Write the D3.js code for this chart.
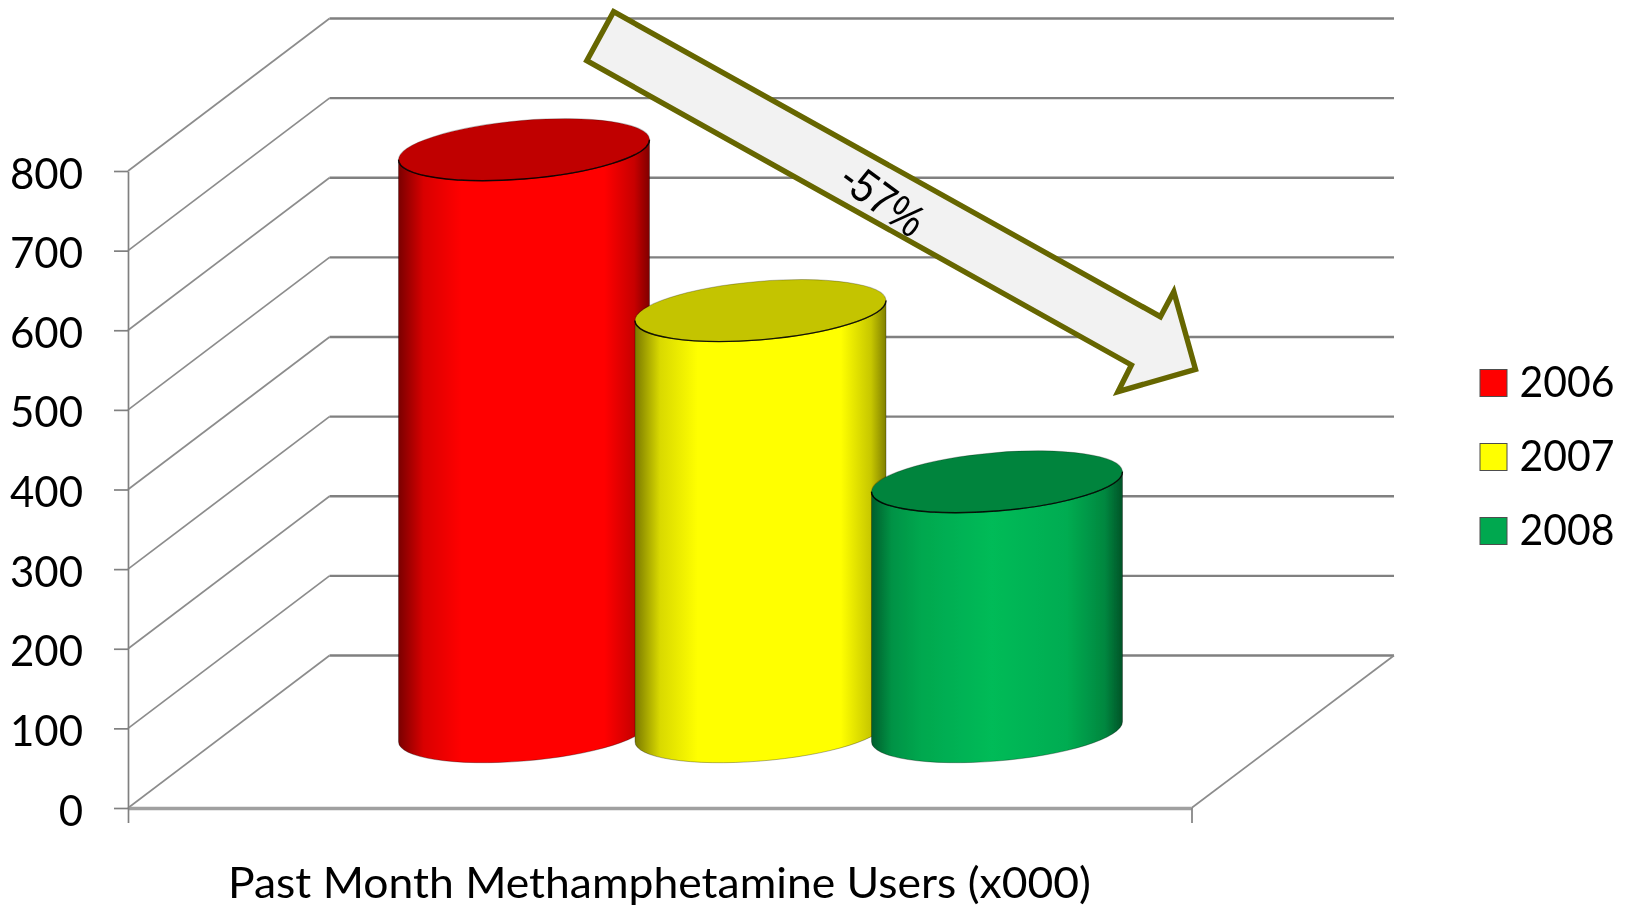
<!DOCTYPE html>
<html>
<head>
<meta charset="utf-8">
<script src="https://cdn.jsdelivr.net/npm/d3@7"></script>
<style>
    html, body { margin: 0; padding: 0; background: #fff; }
    svg { display: block; }
    text { font-family: Lato, sans-serif; fill: #000; }
</style>
</head>
<body>
<svg id="chart" width="1630" height="908"></svg>
<script>
const years = ["2006", "2007", "2008"];
const users = [731, 529, 314];
const bodyColors = ["#ff0000", "#ffff00", "#05bb58"];
const capColors = ["#c00000", "#c4c400", "#04843c"];
const legendColors = ["#ff0000", "#ffff00", "#00a84f"];
const yTicks = [0, 100, 200, 300, 400, 500, 600, 700, 800];
const xTitle = "Past Month Methamphetamine Users (x000)";
const changeLabel = "-57%";

const svg = d3.select("#chart");
const defs = svg.append("defs");

// the reference is an upscaled bitmap, so everything is a little soft
defs.append("filter").attr("id", "soft")
    .attr("filterUnits", "userSpaceOnUse")
    .attr("x", 0).attr("y", 0).attr("width", 1630).attr("height", 908)
    .append("feGaussianBlur").attr("stdDeviation", 0.7);

const plot = svg.append("g").attr("filter", "url(#soft)");

// Scales
const y = d3.scaleLinear().domain([0, 800]).range([808, 171]);
const frontX = d3.scaleLinear().domain([0, 1]).range([128, 1191.5]);
const barX = d3.scalePoint().domain(years).range([524, 997]);

// 3D depth of the chart box
const depthX = 201.5;
const depthY = -152.5;
const wallRight = 1394;

// Side wall gridlines
plot.selectAll(".side")
    .data(yTicks)
    .enter()
    .append("line")
    .attr("class", "side")
    .attr("x1", frontX(0))
    .attr("y1", d => y(d))
    .attr("x2", frontX(0) + depthX)
    .attr("y2", d => y(d) + depthY)
    .attr("stroke", "#8c8c8c")
    .attr("stroke-width", 1.7);

// Back wall gridlines
plot.selectAll(".back")
    .data(yTicks)
    .enter()
    .append("line")
    .attr("class", "back")
    .attr("x1", frontX(0) + depthX)
    .attr("y1", d => y(d) + depthY)
    .attr("x2", wallRight)
    .attr("y2", d => y(d) + depthY)
    .attr("stroke", "#808080")
    .attr("stroke-width", 2.4);

// Floor: right edge and front edge
plot.append("line")
    .attr("x1", frontX(1)).attr("y1", y(0))
    .attr("x2", wallRight).attr("y2", y(0) + depthY)
    .attr("stroke", "#8c8c8c")
    .attr("stroke-width", 1.7);
plot.append("line")
    .attr("x1", frontX(0)).attr("x2", frontX(1))
    .attr("y1", y(0) + 0.5).attr("y2", y(0) + 0.5)
    .attr("stroke", "#a0a0a0")
    .attr("stroke-width", 3.4);

// Y axis
const yAxis = plot.append("g")
    .attr("transform", `translate(${frontX(0)},0)`)
    .call(d3.axisLeft(y).tickValues(yTicks).tickSize(14).tickPadding(31).tickSizeOuter(0));
yAxis.select(".domain").attr("stroke", "#808080").attr("stroke-width", 1.7);
yAxis.selectAll("line").attr("stroke", "#808080").attr("stroke-width", 1.7);
yAxis.selectAll("text")
    .attr("dy", 17)
    .style("font-family", "Lato, sans-serif")
    .style("font-size", "42px");

// X axis, one category with a tick at each end
const xAxis = plot.append("g")
    .attr("transform", `translate(0,${y(0)})`)
    .call(d3.axisBottom(frontX).tickValues([0, 1]).tickSize(15).tickFormat("").tickSizeOuter(0));
xAxis.select(".domain").remove();
xAxis.selectAll("line").attr("stroke", "#808080").attr("stroke-width", 1.7);

// Cylinders
const halfWidth = 125.5;
const rx = 125.9, ry = 29.2, tilt = -4.84, tangentDrop = 10;
const shade = [[0, 0.48], [0.1, 0.85], [0.25, 1], [0.82, 1], [0.94, 0.78], [1, 0.5]];
const greenShade = [[0, 0.5], [0.08, 0.78], [0.2, 0.9], [0.48, 1], [0.78, 0.92], [0.93, 0.72], [1, 0.45]];

years.forEach((year, i) => {
    const grad = defs.append("linearGradient").attr("id", "body" + year);
    (i === 2 ? greenShade : shade).forEach(s => {
        const c = d3.rgb(bodyColors[i]);
        grad.append("stop")
            .attr("offset", s[0])
            .attr("stop-color", d3.rgb(c.r * s[1], c.g * s[1], c.b * s[1]).formatHex());
    });
});

const floorMid = depthY / 2;
const bars = plot.selectAll(".bar")
    .data(years.map((year, i) => ({ year, value: users[i], i })))
    .enter()
    .append("g")
    .attr("class", "bar");

bars.append("path")
    .attr("fill", d => `url(#body${d.year})`)
    .attr("stroke", "rgba(0,0,0,0.3)")
    .attr("stroke-width", 1)
    .attr("d", d => {
        const cx = barX(d.year), top = y(d.value) + floorMid, base = y(0) + floorMid;
        const l = cx - halfWidth, r = cx + halfWidth;
        return `M${l},${top + tangentDrop}` +
            `A${rx},${ry} ${tilt} 0 0 ${r},${top - tangentDrop}` +
            `L${r},${base - tangentDrop}` +
            `A${rx},${ry} ${tilt} 0 1 ${l},${base + tangentDrop}Z`;
    });

bars.append("ellipse")
    .attr("rx", rx)
    .attr("ry", ry)
    .attr("transform", d => `translate(${barX(d.year)},${y(d.value) + floorMid}) rotate(${tilt})`)
    .attr("fill", d => capColors[d.i])
    .attr("stroke", "rgba(0,0,0,0.25)")
    .attr("stroke-width", 1);

// Dark front rim of each cap
bars.append("path")
    .attr("fill", "none")
    .attr("stroke", "rgba(0,0,0,0.85)")
    .attr("stroke-width", 1.4)
    .attr("d", d => {
        const cx = barX(d.year), top = y(d.value) + floorMid;
        return `M${cx - halfWidth},${top + tangentDrop}` +
            `A${rx},${ry} ${tilt} 0 0 ${cx + halfWidth},${top - tangentDrop}`;
    });

// Decline arrow
const arrowShape = [
    [613.6, 11.7], [1160.4, 316.7], [1173.8, 291.7], [1195.5, 369.3],
    [1118, 391.7], [1131.4, 365], [586.8, 60.7]
];
plot.append("path")
    .attr("d", d3.line()(arrowShape) + "Z")
    .attr("fill", "#f2f2f2")
    .attr("stroke", "#666600")
    .attr("stroke-width", 5.4);

plot.append("text")
    .attr("transform", "translate(883,199) rotate(36) scale(0.86,1)")
    .attr("text-anchor", "middle")
    .attr("dy", 16)
    .style("font-family", '"Liberation Sans", sans-serif')
    .style("font-size", "46px")
    .text(changeLabel);

// X title
plot.append("text")
    .attr("x", 228)
    .attr("y", 898)
    .attr("textLength", 863)
    .attr("lengthAdjust", "spacingAndGlyphs")
    .style("font-size", "42px")
    .text(xTitle);

// Legend
const legendY = d3.scalePoint().domain(years).range([383, 531]);
const legend = plot.selectAll(".legend")
    .data(years)
    .enter()
    .append("g")
    .attr("class", "legend")
    .attr("transform", d => `translate(1480,${legendY(d)})`);

legend.append("rect")
    .attr("x", 0)
    .attr("y", -13.5)
    .attr("width", 27)
    .attr("height", 27)
    .attr("fill", (d, i) => legendColors[i])
    .attr("stroke", "#4d4d4d")
    .attr("stroke-width", 1);

legend.append("text")
    .attr("x", 39.5)
    .attr("y", 14)
    .style("font-size", "42px")
    .attr("textLength", 95)
    .attr("lengthAdjust", "spacingAndGlyphs")
    .text(d => d);
</script>
</body>
</html>
